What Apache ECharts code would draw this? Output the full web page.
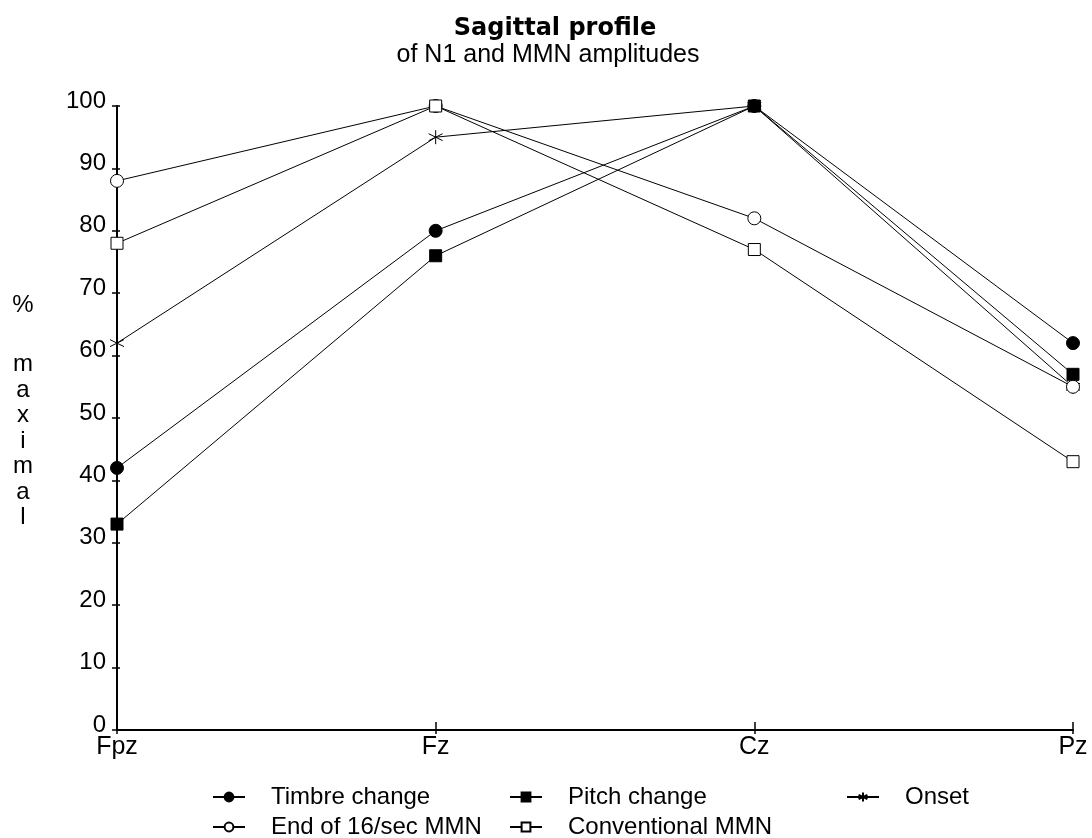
<!DOCTYPE html>
<html>
<head>
<meta charset="utf-8">
<script src="https://cdn.jsdelivr.net/npm/echarts@6/dist/echarts.min.js"></script>
<style>
  html, body { margin: 0; padding: 0; background: #fff; }
  #chart { width: 1092px; height: 838px; }
</style>
</head>
<body>
<div id="chart"></div>
<script>
const sites = ['Fpz', 'Fz', 'Cz', 'Pz'];
const timbre = [42, 80, 100, 62];
const pitch = [33, 76, 100, 57];
const onset = [62, 95, 100, 55];
const end16 = [88, 100, 82, 55];
const conventional = [78, 100, 77, 43];

const font = '"Liberation Sans", Arial, sans-serif';
const asterisk = 'path://M5,0L5,10M0.7,2.5L9.3,7.5M9.3,2.5L0.7,7.5';

const chart = echarts.init(document.getElementById('chart'));

const mkSeries = (name, data, symbol, size, fill) => ({
  name,
  type: 'line',
  data,
  symbol,
  symbolSize: size,
  showAllSymbol: true,
  itemStyle: { color: fill, borderColor: '#000', borderWidth: 1 },
  lineStyle: { color: '#000', width: 1 },
  emphasis: { disabled: true },
  z: 3
});

// one legend per entry so each sits where it does in the figure
const mkLegend = (name, left, top) => ({
  data: [name],
  left, top,
  itemWidth: 32,
  itemHeight: 11,
  textStyle: { fontFamily: font, fontSize: 24, lineHeight: 24, color: '#000', padding: [0, 0, 0, 21] },
  selectedMode: false
});

chart.setOption({
  animation: false,
  backgroundColor: '#fff',
  title: [{
    text: 'Sagittal profile',
    left: 550,
    textAlign: 'center',
    top: 12,
    textStyle: { fontFamily: '"DejaVu Sans", sans-serif', fontSize: 24, fontWeight: 'bold', color: '#000' }
  }, {
    text: 'of N1 and MMN amplitudes',
    left: 543,
    textAlign: 'center',
    top: 38,
    textStyle: { fontFamily: font, fontSize: 25, fontWeight: 'normal', color: '#000' }
  }],
  legend: [
    mkLegend('Timbre change', 207, 780),
    mkLegend('Pitch change', 504, 780),
    mkLegend('Onset', 841, 780),
    mkLegend('End of 16/sec MMN', 207, 810),
    mkLegend('Conventional MMN', 504, 810)
  ],
  grid: { left: 117, right: 19, top: 106, bottom: 108 },
  xAxis: [{
    type: 'category',
    data: sites,
    boundaryGap: false,
    axisLine: { lineStyle: { color: '#000', width: 2 } },
    axisTick: { alignWithLabel: true, length: 4, lineStyle: { color: '#000', width: 1.5 } },
    axisLabel: { fontFamily: font, fontSize: 25, color: '#000', margin: 5 },
    splitLine: { show: false }
  }, {
    type: 'category',
    data: sites,
    boundaryGap: false,
    position: 'bottom',
    axisLine: { show: false },
    axisTick: { inside: true, length: 8, lineStyle: { color: '#000', width: 1.5 } },
    axisLabel: { show: false },
    splitLine: { show: false }
  }],
  yAxis: [{
    type: 'value',
    min: 0,
    max: 100,
    interval: 10,
    axisLine: { show: true, lineStyle: { color: '#000', width: 2 } },
    axisTick: { show: true, length: 5, lineStyle: { color: '#000', width: 1.5 } },
    axisLabel: {
      fontFamily: font, fontSize: 24, color: '#000', margin: 11,
      verticalAlign: 'bottom', lineHeight: 10
    },
    splitLine: { show: false }
  }, {
    type: 'value',
    min: 0,
    max: 100,
    interval: 10,
    position: 'left',
    axisLine: { show: false },
    axisTick: { show: true, inside: true, length: 3, lineStyle: { color: '#000', width: 1.5 } },
    axisLabel: { show: false },
    splitLine: { show: false }
  }],
  graphic: [{
    type: 'text',
    x: 23,
    y: 305,
    style: { text: '%', font: '24px ' + font, fill: '#000', align: 'center', verticalAlign: 'middle' }
  }, {
    type: 'text',
    x: 23,
    y: 352,
    style: {
      text: 'm\na\nx\ni\nm\na\nl',
      font: '24px ' + font,
      lineHeight: 25.5,
      fill: '#000',
      align: 'center',
      verticalAlign: 'top'
    }
  }],
  series: [
    mkSeries('Timbre change', timbre, 'circle', 13, '#000'),
    mkSeries('Pitch change', pitch, 'rect', 12, '#000'),
    mkSeries('Onset', onset, asterisk, 14, 'none'),
    mkSeries('End of 16/sec MMN', end16, 'circle', 13, '#fff'),
    mkSeries('Conventional MMN', conventional, 'rect', 12, '#fff')
  ]
});
</script>
</body>
</html>
